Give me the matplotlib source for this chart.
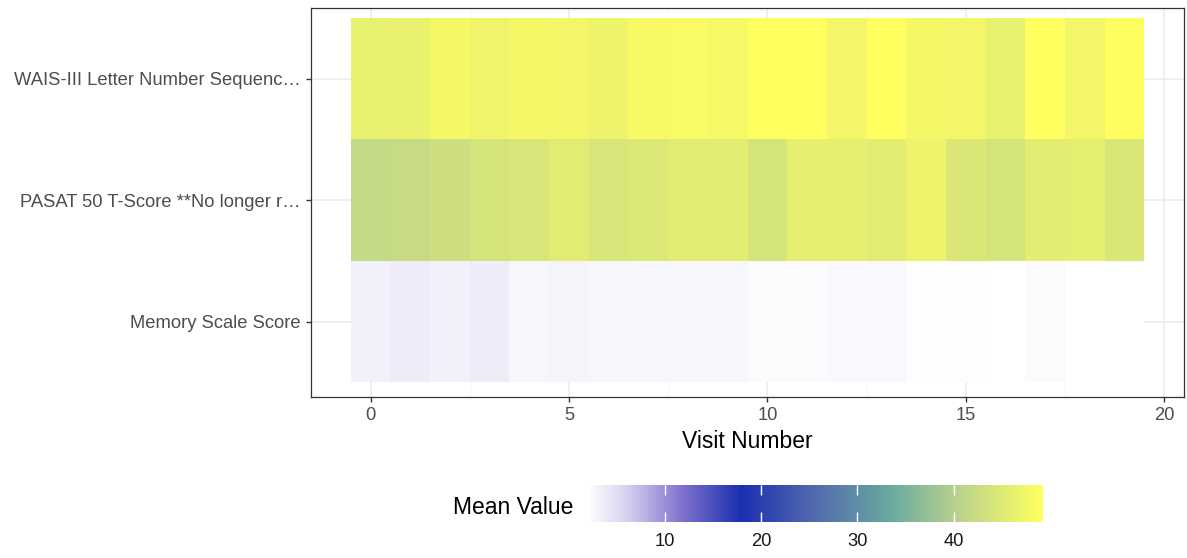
import numpy as np
import matplotlib
matplotlib.use("Agg")
import matplotlib.pyplot as plt
from matplotlib.colors import LinearSegmentedColormap, Normalize

plt.rcParams['font.family'] = ['Liberation Sans', 'DejaVu Sans']

# Measures (bottom to top) and visit numbers
measures = ["Memory Scale Score",
            "PASAT 50 T-Score **No longer r\u2026",
            "WAIS-III Letter Number Sequenc\u2026"]
visits = list(range(20))

memory_scale = [3.2, 3.6, 3.2, 3.6, 2.8, 3.0, 2.7, 2.7, 2.7, 2.7,
                2.3, 2.35, 2.55, 2.6, 2.1, 2.15, 2.0, 2.3, 2.0, 1.95]
pasat_50 = [41.9, 42.1, 42.9, 44.1, 44.3, 45.5, 44.3, 44.8, 45.5, 45.5,
            44.1, 46.0, 46.0, 45.5, 47.0, 44.6, 44.1, 45.7, 45.8, 44.6]
wais_lns = [46.3, 46.5, 48.0, 47.2, 48.0, 47.7, 47.0, 48.3, 48.4, 48.1,
            49.2, 49.2, 47.5, 49.2, 48.0, 47.6, 46.3, 49.2, 47.5, 49.0]

cbar_ticks = [10, 20, 30, 40]

values = np.array([memory_scale, pasat_50, wais_lns])

# Gradient: white -> lavender -> slate purple -> deep blue -> teal -> yellow
stops = [(1.9, "#ffffff"), (6.0, "#d5d0ef"), (12.0, "#7a6ecb"),
         (17.9, "#1a2fb0"), (25.0, "#4f66ae"), (33.6, "#6aaaa0"),
         (40.0, "#b4cf8e"), (49.3, "#ffff60")]
lo, hi = stops[0][0], stops[-1][0]
cmap = LinearSegmentedColormap.from_list(
    "mean_value", [((v - lo) / (hi - lo), c) for v, c in stops])
norm = Normalize(vmin=lo, vmax=hi)

W, H = 1187, 558
fig = plt.figure(figsize=(W / 100, H / 100), dpi=100)
ax = fig.add_axes([311 / W, 1 - 397 / H, (1184 - 311) / W, (397 - 8) / H])

x_edges = np.arange(len(visits) + 1) - 0.5
y_edges = np.arange(len(measures) + 1) + 0.5
ax.pcolormesh(x_edges, y_edges, values, cmap=cmap, norm=norm, zorder=2)

ax.set_xlim(-1.5, 20.5)
ax.set_ylim(0.38, 3.58)

ax.set_xticks([0, 5, 10, 15, 20])
ax.set_xticks([2.5, 7.5, 12.5, 17.5], minor=True)
ax.set_yticks([1, 2, 3])
ax.set_yticklabels(measures)

ax.grid(True, which="major", color="#ebebeb", linewidth=1.1, zorder=0)
ax.grid(True, which="minor", axis="x", color="#f2f2f2", linewidth=0.6, zorder=0)
ax.set_axisbelow(True)

for s in ax.spines.values():
    s.set_color("#333333")
    s.set_linewidth(0.9)

ax.tick_params(axis="both", which="major", length=3.5, width=1.0, color="#333333",
               labelcolor="#4d4d4d", labelsize=13.2, pad=4)
ax.tick_params(axis="both", which="minor", length=0)
ax.set_xlabel("Visit Number", fontsize=16.5, color="black", labelpad=4)

# Colour legend
cax = fig.add_axes([587 / W, 1 - 522 / H, (1043 - 587) / W, 37 / H])
sm = plt.cm.ScalarMappable(norm=norm, cmap=cmap)
cb = fig.colorbar(sm, cax=cax, orientation="horizontal")
cb.outline.set_visible(False)
cb.set_ticks(cbar_ticks)
cax.set_xlim(lo, hi)
cax.tick_params(axis="x", direction="in", length=7, width=1.0, color="white",
                top=True, bottom=True, labelsize=13.2, labelcolor="#1a1a1a", pad=8)
fig.text(573 / W, 1 - 507 / H, "Mean Value", ha="right", va="center",
         fontsize=16.5, color="black")

fig.savefig("out.png", dpi=100)
